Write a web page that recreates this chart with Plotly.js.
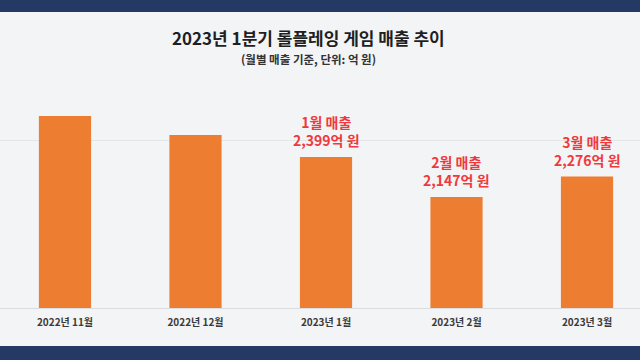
<!DOCTYPE html>
<html>
<head>
<meta charset="utf-8">
<script src="https://cdn.plot.ly/plotly-3.0.1.min.js"></script>
<style>
  html, body { margin: 0; padding: 0; width: 640px; height: 360px; overflow: hidden; background: #253965; }
  #chart { position: absolute; left: 0; top: 12px; width: 640px; height: 334px; }
</style>
</head>
<body>
<div id="chart"></div>
<script>
// Data (monthly role-playing game revenue, unit: 억 원)
const months = ["2022년 11월", "2022년 12월", "2023년 1월", "2023년 2월", "2023년 3월"];
const revenue = [2658, 2537, 2399, 2147, 2276];
const labelMonths = ["", "", "1월", "2월", "3월"];

const FONT = '"Noto Sans CJK KR", "Noto Sans", sans-serif';

const annotations = [];
revenue.forEach((v, i) => {
  if (!labelMonths[i]) return;
  annotations.push({
    x: months[i], y: v, xref: 'x', yref: 'y',
    text: labelMonths[i] + ' 매출<br>' + v.toLocaleString('en-US') + '억 원',
    showarrow: false, yanchor: 'bottom', yshift: 5,
    font: { family: FONT, size: 14, color: '#ef3a3d', weight: 700 }
  });
});

annotations.push({
  xref: 'paper', yref: 'paper', x: 0.482, y: 1.0, yanchor: 'middle', yshift: 43,
  text: '<b>2023년 1분기 롤플레잉 게임 매출 추이</b>', showarrow: false,
  font: { family: FONT, size: 17, color: '#1f1f1f' }
});
annotations.push({
  xref: 'paper', yref: 'paper', x: 0.482, y: 1.0, yanchor: 'middle', yshift: 21,
  text: '<b>(월별 매출 기준, 단위: 억 원)</b>', showarrow: false,
  font: { family: FONT, size: 11.5, color: '#333333' }
});

const trace = {
  type: 'bar',
  x: months,
  y: revenue,
  width: 0.4,
  marker: { color: '#ed7d31' },
  hoverinfo: 'skip'
};

const layout = {
  width: 640, height: 334,
  margin: { l: 0, r: 0, t: 68, b: 38 },
  paper_bgcolor: '#f3f4f6',
  plot_bgcolor: '#f3f4f6',
  showlegend: false,
  font: { family: FONT },
  xaxis: {
    type: 'category',
    range: [-0.498, 4.406],
    showgrid: false,
    showline: true, linecolor: '#dcdde1', linewidth: 1,
    ticks: '',
    ticklabelstandoff: 5,
    tickfont: { family: FONT, size: 10, color: '#3a3a3a', weight: 700 },
    fixedrange: true
  },
  yaxis: {
    range: [1448, 2884],
    tickvals: [2500],
    showticklabels: false,
    showgrid: true, gridcolor: '#e4e5e8', gridwidth: 1,
    zeroline: false,
    showline: false,
    fixedrange: true
  },
  annotations: annotations
};

Plotly.newPlot('chart', [trace], layout, { displayModeBar: false, staticPlot: true });
</script>
</body>
</html>
